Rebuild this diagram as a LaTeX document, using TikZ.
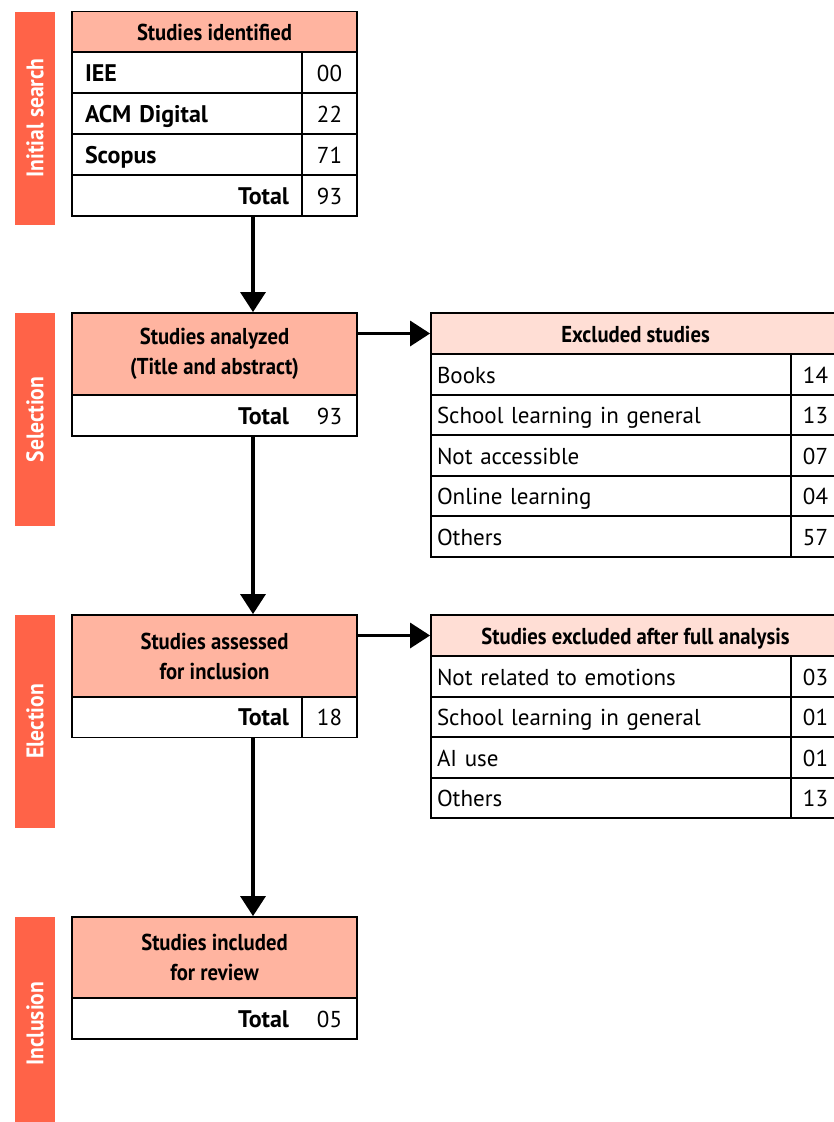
\documentclass[tikz,border=0pt]{standalone}
\usepackage{fontspec}
\setmainfont{PT Sans}
\newfontfamily\condfont[FakeStretch=0.9]{PT Sans}
\usetikzlibrary{arrows.meta}

\definecolor{phasered}{RGB}{255,99,72}
\definecolor{headpink}{RGB}{255,180,160}
\definecolor{lightpink}{RGB}{255,222,213}

\tikzset{
    phase/.style={fill=phasered, rotate=90, minimum width=213pt, minimum height=40pt,
        inner sep=0pt, text=white, font=\condfont\bfseries\fontsize{24}{24}\selectfont},
    headbox/.style={draw, line width=1.8pt, fill=headpink, minimum width=285pt,
        inner sep=0pt, align=center, font=\condfont\bfseries\fontsize{23}{30}\selectfont},
    exhead/.style={draw, line width=1.8pt, fill=lightpink, minimum width=409pt,
        minimum height=41pt, inner sep=0pt, text height=17pt, text depth=0pt,
        font=\condfont\bfseries\fontsize{23}{23}\selectfont},
    srccell/.style={draw, line width=1.8pt, minimum height=41pt, text width=204pt,
        inner xsep=13pt, inner ysep=0pt, align=left, text height=17pt, text depth=0pt,
        font=\bfseries\fontsize{24}{24}\selectfont},
    numcell/.style={draw, line width=1.8pt, minimum width=55pt, minimum height=41pt,
        inner sep=0pt, text height=17pt, text depth=0pt, font=\fontsize{23}{23}\selectfont},
    rowframe/.style={draw, line width=1.8pt, minimum width=285pt, minimum height=41pt, inner sep=0pt},
    exname/.style={draw, line width=1.8pt, minimum height=40.6pt, text width=348pt,
        inner xsep=6pt, inner ysep=0pt, align=left, text height=17pt, text depth=0pt,
        font=\fontsize{23}{23}\selectfont},
    exnum/.style={draw, line width=1.8pt, minimum width=49pt, minimum height=40.6pt,
        inner sep=0pt, text height=17pt, text depth=0pt, font=\fontsize{23}{23}\selectfont},
    flow/.style={line width=3.2pt, -{Triangle[length=20pt,width=25pt]}}
}

\begin{document}
\begin{tikzpicture}[x=1pt, y=-1pt]

    % --- Page frame (pixels of the original, y downwards) ---
    \useasboundingbox (0,0) rectangle (834,1122);
    \clip (0,0) rectangle (834,1122);

    % --- Phase bars on the left ---
    \node[phase] (ph1) at (35,118) {Initial search};
    \node[phase] (ph2) at (35,419.5) {Selection};
    \node[phase] (ph3) at (35,721.5) {Election};
    \node[phase] (ph4) at (35,1023.5) {Inclusion};

    % --- Studies identified ---
    \node[headbox, minimum height=41pt, text height=17pt, text depth=0pt] (idh) at (214.5,32) {Studies identified};
    \node[srccell] (s1) at (187,72.5) {IEE};
    \node[numcell] (n1) at (329.5,72.5) {00};
    \node[srccell] (s2) at (187,113.5) {ACM Digital};
    \node[numcell] (n2) at (329.5,113.5) {22};
    \node[srccell] (s3) at (187,154.5) {Scopus};
    \node[numcell] (n3) at (329.5,154.5) {71};
    \node[srccell, align=right] (s4) at (187,195.5) {Total};
    \node[numcell] (n4) at (329.5,195.5) {93};

    % --- Studies analyzed ---
    \node[headbox, minimum height=82pt] (anh) at (214.5,354) {Studies analyzed\\(Title and abstract)};
    \node[rowframe] (antot) at (214.5,415.5) {};
    \node[srccell, draw=none, align=right] (antl) at (187,415.5) {Total};
    \node[numcell, draw=none] (ann) at (329.5,415.5) {93};

    % --- Excluded studies ---
    \node[exhead] (exh) at (635.5,333.5) {Excluded studies};
    \node[exname] (e1) at (611,374.5) {Books};
    \node[exnum] (en1) at (815.5,374.5) {14};
    \node[exname] (e2) at (611,415) {School learning in general};
    \node[exnum] (en2) at (815.5,415) {13};
    \node[exname] (e3) at (611,455.5) {Not accessible};
    \node[exnum] (en3) at (815.5,455.5) {07};
    \node[exname] (e4) at (611,496) {Online learning};
    \node[exnum] (en4) at (815.5,496) {04};
    \node[exname] (e5) at (611,536.5) {Others};
    \node[exnum] (en5) at (815.5,536.5) {57};

    % --- Studies assessed ---
    \node[headbox, minimum height=82pt] (ash) at (214.5,656) {Studies assessed\\for inclusion};
    \node[srccell, align=right] (astl) at (187,717) {Total};
    \node[numcell] (asn) at (329.5,717) {18};

    % --- Studies excluded after full analysis ---
    \node[exhead] (fxh) at (635.5,635.5) {Studies excluded after full analysis};
    \node[exname] (f1) at (611,676.5) {Not related to emotions};
    \node[exnum] (fn1) at (815.5,676.5) {03};
    \node[exname] (f2) at (611,717) {School learning in general};
    \node[exnum] (fn2) at (815.5,717) {01};
    \node[exname] (f3) at (611,757.5) {AI use};
    \node[exnum] (fn3) at (815.5,757.5) {01};
    \node[exname] (f4) at (611,798) {Others};
    \node[exnum] (fn4) at (815.5,798) {13};

    % --- Studies included ---
    \node[headbox, minimum height=81pt] (inh) at (214.5,957.5) {Studies included\\for review};
    \node[rowframe] (intot) at (214.5,1018.5) {};
    \node[srccell, draw=none, align=right] (intl) at (187,1018.5) {Total};
    \node[numcell, draw=none] (inn) at (329.5,1018.5) {05};

    % --- Arrows ---
    % the downward arrows all run along one vertical line
    \coordinate (spine) at (253,0);
    \draw[flow] (s4.south -| spine) -- (anh.north -| spine);
    \draw[flow] (antot.south -| spine) -- (ash.north -| spine);
    \draw[flow] (astl.south -| spine) -- (inh.north -| spine);

    % sideways arrows to the exclusion tables
    \draw[flow] (anh.east |- exh.west) -- (exh.west);
    \draw[flow] (ash.east |- fxh.west) -- (fxh.west);

\end{tikzpicture}
\end{document}
